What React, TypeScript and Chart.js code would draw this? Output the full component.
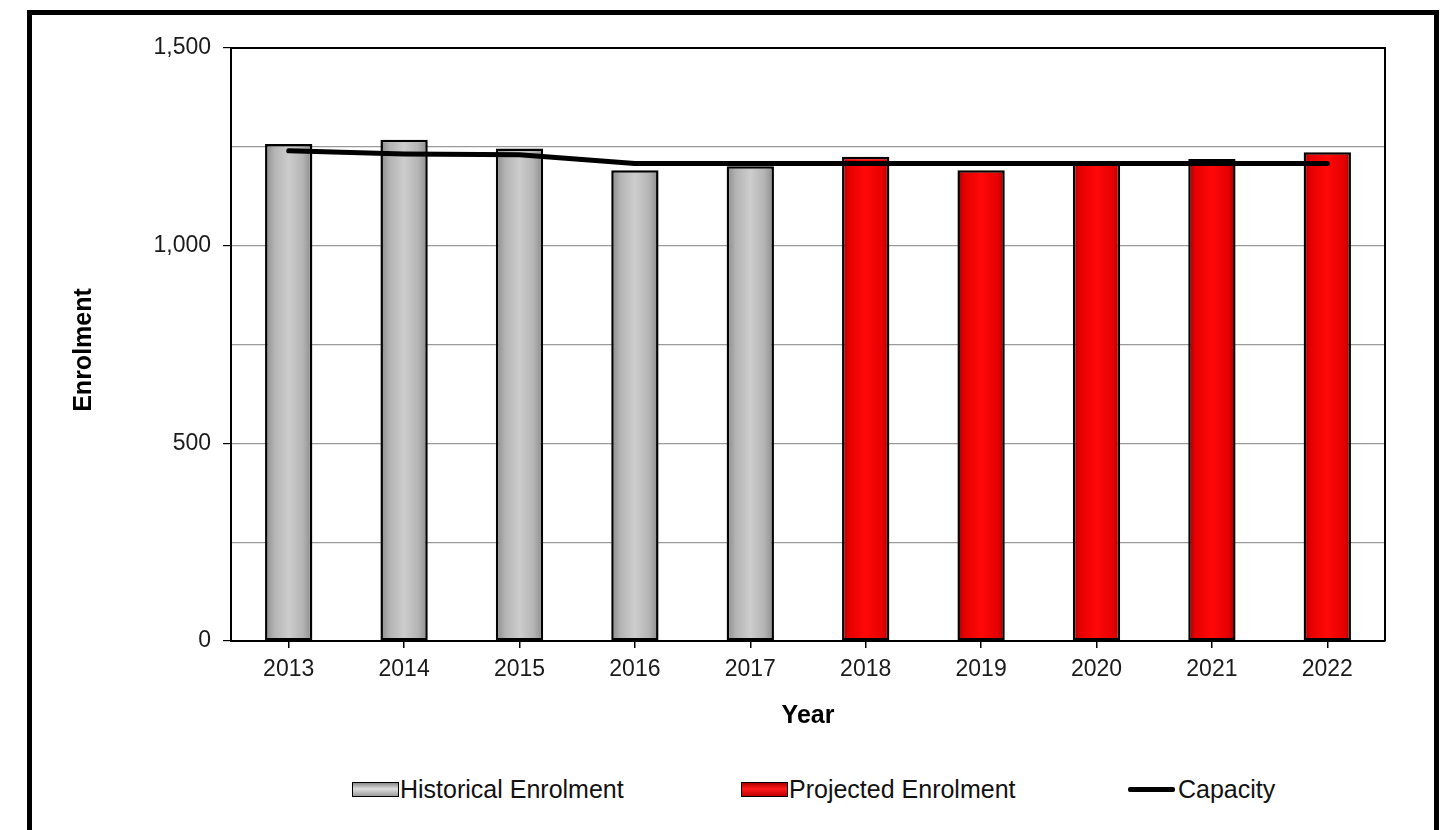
import React, { useEffect, useRef } from "react";
import { Chart, registerables } from "chart.js";

Chart.register(...registerables);

const years = ["2013", "2014", "2015", "2016", "2017", "2018", "2019", "2020", "2021", "2022"];
const historical = [1257, 1268, 1246, 1191, 1201, null, null, null, null, null];
const projected = [null, null, null, null, null, 1225, 1191, 1210, 1219, 1236];
const capacity = [1240, 1232, 1230, 1208, 1208, 1208, 1208, 1208, 1208, 1208];
const yTicks = [0, 500, 1000, 1500];

const FONT = "'Liberation Sans', Arial, sans-serif";
const BAR_PCT = 0.41;

const grayStops: [number, string][] = [
  [0, "#8a8a8a"],
  [0.2, "#b4b4b4"],
  [0.5, "#cdcdcd"],
  [0.8, "#b4b4b4"],
  [1, "#8a8a8a"],
];
const redStops: [number, string][] = [
  [0, "#a80000"],
  [0.15, "#e60000"],
  [0.5, "#ff0808"],
  [0.85, "#e60000"],
  [1, "#a80000"],
];

function makeGradient(c: any, stops: [number, string][], fallback: string) {
  const chart = c.chart;
  if (!chart.chartArea || c.type !== "data" || !chart.scales || !chart.scales.x) return fallback;
  const xs = chart.scales.x;
  const cx = xs.getPixelForValue(c.dataIndex);
  const w = (xs.width / years.length) * BAR_PCT;
  const g = chart.ctx.createLinearGradient(cx - w / 2, 0, cx + w / 2, 0);
  stops.forEach(([o, col]) => g.addColorStop(o, col));
  return g;
}

const framePlugin = {
  id: "frameAndTitles",
  afterDraw(chart: any) {
    const { ctx, chartArea } = chart;
    ctx.save();
    ctx.strokeStyle = "#000";
    ctx.lineWidth = 2;
    ctx.beginPath();
    ctx.moveTo(chartArea.left, chartArea.top);
    ctx.lineTo(chartArea.right, chartArea.top);
    ctx.lineTo(chartArea.right, chartArea.bottom);
    ctx.stroke();
    ctx.fillStyle = "#000";
    ctx.font = `bold 25px ${FONT}`;
    ctx.textAlign = "center";
    ctx.textBaseline = "middle";
    ctx.fillText("Year", (chartArea.left + chartArea.right) / 2, 716);
    ctx.translate(84, 350);
    ctx.rotate(-Math.PI / 2);
    ctx.fillText("Enrolment", 0, 0);
    ctx.restore();
  },
};

export default function App() {
  const ref = useRef<HTMLCanvasElement | null>(null);

  useEffect(() => {
    if (!ref.current) return;
    const chart = new Chart(ref.current, {
      type: "bar",
      data: {
        labels: years,
        datasets: [
          {
            type: "line",
            label: "Capacity",
            data: capacity,
            borderColor: "#000",
            borderWidth: 5,
            pointRadius: 0,
            tension: 0,
            borderJoinStyle: "round",
            borderCapStyle: "round",
            order: 0,
          } as any,
          {
            label: "Historical Enrolment",
            data: historical,
            backgroundColor: (c: any) => makeGradient(c, grayStops, "#c0c0c0"),
            borderColor: "#000",
            borderWidth: 2.5,
            borderSkipped: false,
            grouped: false,
            barPercentage: BAR_PCT,
            categoryPercentage: 1,
            order: 1,
          } as any,
          {
            label: "Projected Enrolment",
            data: projected,
            backgroundColor: (c: any) => makeGradient(c, redStops, "#ff0000"),
            borderColor: "#000",
            borderWidth: 2.5,
            borderSkipped: false,
            grouped: false,
            barPercentage: BAR_PCT,
            categoryPercentage: 1,
            order: 1,
          } as any,
        ],
      },
      options: {
        animation: false,
        responsive: false,
        maintainAspectRatio: false,
        layout: { padding: { left: 0, top: 48, right: 62, bottom: 0 } },
        plugins: {
          legend: { display: false },
          tooltip: { enabled: false },
        },
        scales: {
          x: {
            afterFit: (s: any) => {
              s.height = 760 - 641;
            },
            grid: {
              display: true,
              drawOnChartArea: false,
              drawTicks: true,
              tickLength: 7,
              tickColor: "#000",
              offset: false,
              lineWidth: 1.5,
            },
            border: { display: true, color: "#000", width: 2 },
            ticks: {
              color: "#1a1a1a",
              font: { family: FONT, size: 23 },
              padding: 8,
              maxRotation: 0,
            },
          },
          y: {
            min: 0,
            max: 1500,
            afterFit: (s: any) => {
              s.width = 231;
            },
            afterBuildTicks: (s: any) => {
              const t: any[] = [];
              for (let v = 0; v <= 1500; v += 250) t.push({ value: v });
              s.ticks = t;
            },
            grid: {
              color: (c: any) => (c.tick && c.tick.value === 0 ? "transparent" : "#9a9a9a"),
              lineWidth: 1.2,
              drawTicks: true,
              tickLength: 8,
              tickColor: (c: any) => (c.tick && yTicks.includes(c.tick.value) ? "#000" : "transparent"),
            },
            border: { display: true, color: "#000", width: 2 },
            ticks: {
              color: "#1a1a1a",
              font: { family: FONT, size: 23 },
              padding: 12,
              callback: (v: any) => (yTicks.includes(Number(v)) ? Number(v).toLocaleString("en-US") : ""),
            },
          },
        },
      } as any,
      plugins: [framePlugin],
    });
    return () => chart.destroy();
  }, []);

  const legendText: React.CSSProperties = {
    position: "absolute",
    top: 776,
    fontFamily: FONT,
    fontSize: 25,
    lineHeight: "26px",
    color: "#111",
    whiteSpace: "nowrap",
  };
  const box = (left: number, bg: string): React.CSSProperties => ({
    position: "absolute",
    left,
    top: 782,
    width: 45,
    height: 13,
    border: "1px solid #000",
    background: bg,
  });

  return (
    <div
      style={{
        position: "fixed",
        left: 0,
        top: 0,
        width: 1447,
        height: 830,
        background: "#fff",
        overflow: "hidden",
      }}
    >
      <div
        style={{
          position: "absolute",
          left: 27,
          top: 10,
          width: 1402,
          height: 900,
          border: "5px solid #000",
        }}
      />
      <canvas
        ref={ref}
        width={1447}
        height={760}
        style={{ position: "absolute", left: 0, top: 0, width: 1447, height: 760 }}
      />
      <div style={box(352, "linear-gradient(180deg,#8a8a8a 0%,#e0e0e0 45%,#9a9a9a 100%)")} />
      <div style={{ ...legendText, left: 400 }}>Historical Enrolment</div>
      <div style={box(741, "linear-gradient(180deg,#b00000 0%,#ff1a1a 45%,#c00000 100%)")} />
      <div style={{ ...legendText, left: 789 }}>Projected Enrolment</div>
      <div
        style={{
          position: "absolute",
          left: 1128,
          top: 787,
          width: 47,
          height: 5,
          background: "#000",
          borderRadius: 2,
        }}
      />
      <div style={{ ...legendText, left: 1178 }}>Capacity</div>
    </div>
  );
}
